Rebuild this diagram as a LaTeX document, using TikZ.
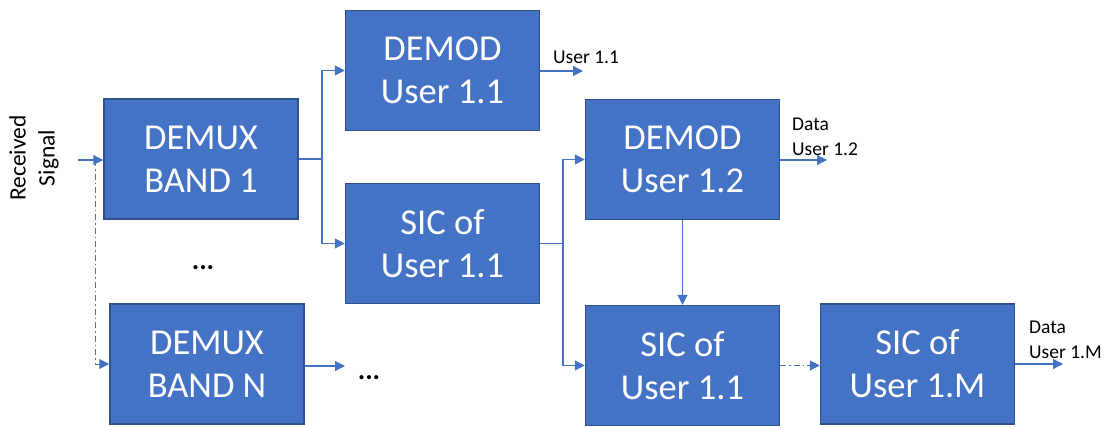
\documentclass[tikz,border=0pt]{standalone}
\usepackage{fontspec}
\setmainfont{Carlito}
\usetikzlibrary{arrows.meta}
\definecolor{boxfill}{HTML}{4472C4}
\definecolor{boxline}{HTML}{2F528F}
\definecolor{arr}{HTML}{4472C4}
\begin{document}
\begin{tikzpicture}[x=1pt,y=1pt,
  blk/.style={rectangle,draw=boxline,line width=1.5pt,fill=boxfill,minimum width=194pt,minimum height=120pt,inner sep=0pt,text=white,align=center,font=\fontsize{36.5}{43}\selectfont},
  conn/.style={draw=arr,line width=1.2pt},
  arw/.style={conn,-{Triangle[length=10pt,width=10pt]}},
  dd/.style={arw,dash pattern=on 6pt off 3pt on 1.5pt off 3pt},
  lbl/.style={anchor=west,align=left,inner sep=0pt,font=\fontsize{19.5}{24.5}\selectfont},
  dots/.style={inner sep=0pt,font=\fontsize{28}{30}\selectfont\bfseries}]
\useasboundingbox (0,0) rectangle (1108,-428);
\node[blk] (dm1) at (201,-159) {DEMUX\\BAND 1};
\node[blk] (d11) at (442.5,-70.5) {DEMOD\\User 1.1};
\node[blk] (s11) at (442.5,-243.5) {SIC of\\User 1.1};
\node[blk] (d12) at (682.5,-159.5) {DEMOD\\User 1.2};
\node[blk] (s11b) at (682.5,-365.5) {SIC of\\User 1.1};
\node[blk] (s1M) at (917.5,-364) {SIC of\\User 1.M};
\node[blk] (dmN) at (207,-364) {DEMUX\\BAND N};
\node[rotate=90,align=center,inner sep=0pt,font=\fontsize{23.5}{29}\selectfont] (rsig) at (34,-158) {Received\\Signal};
\coordinate (rs) at (78,-160);
\coordinate (rsj) at (95,-160);
\draw[arw] (rs) -- (rs -| dm1.west);
\draw[dd,line width=1pt] (rsj) |- (dmN.west);
\coordinate (j1) at (322,-159);
\draw[conn] (dm1.east |- j1) -- (j1);
\draw[arw] (j1) |- (d11.west);
\draw[arw] (j1) |- (s11.west);
\coordinate (j2) at (563,-243.5);
\draw[conn] (s11.east) -- (j2);
\draw[arw] (j2) |- (d12.west);
\draw[arw] (j2) |- (s11b.west);
\draw[arw] (d12.south) -- (s11b.north);
\draw[dd] (s11b.east) -- (s1M.west |- s11b.east);
\coordinate (o1) at (583,-71);
\coordinate (o2) at (827,-160);
\coordinate (o3) at (1063,-364);
\coordinate (o4) at (345,-366);
\draw[arw] (d11.east |- o1) -- (o1);
\draw[arw] (d12.east |- o2) -- (o2);
\draw[arw] (s1M.east |- o3) -- (o3);
\draw[arw] (dmN.east |- o4) -- (o4);
\node[lbl] (l1) at (553,-57) {User 1.1};
\node[lbl] (l2) at (792,-137) {Data\\User 1.2};
\node[lbl] (l3) at (1029,-340) {Data\\User 1.M};
\node[dots] (dt1) at (203,-268) {...};
\node[dots] (dt2) at (369,-378) {...};
\end{tikzpicture}
\end{document}
